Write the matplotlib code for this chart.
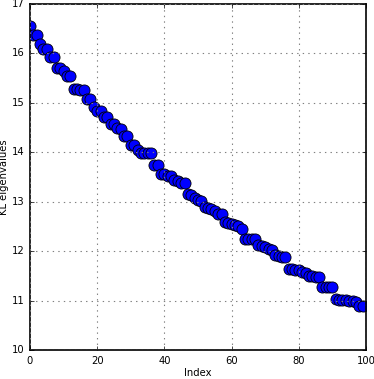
import matplotlib
matplotlib.use("Agg")
import matplotlib.pyplot as plt

index = list(range(100))
eigenvalues = [
    16.55, 16.37, 16.37, 16.20, 16.09, 16.09, 15.92, 15.92, 15.71, 15.71,
    15.65, 15.55, 15.55, 15.28, 15.28, 15.25, 15.25, 15.08, 15.08, 14.91,
    14.83, 14.83, 14.72, 14.71, 14.57, 14.57, 14.49, 14.47, 14.32, 14.32,
    14.14, 14.14, 14.05, 13.99, 13.98, 13.98, 13.98, 13.75, 13.75, 13.57,
    13.57, 13.53, 13.53, 13.43, 13.41, 13.38, 13.37, 13.15, 13.14, 13.08,
    13.03, 13.01, 12.90, 12.87, 12.85, 12.82, 12.76, 12.75, 12.58, 12.56,
    12.55, 12.52, 12.50, 12.45, 12.25, 12.25, 12.25, 12.24, 12.13, 12.11,
    12.08, 12.05, 12.03, 11.92, 11.90, 11.89, 11.88, 11.63, 11.63, 11.62,
    11.61, 11.57, 11.55, 11.50, 11.49, 11.48, 11.47, 11.28, 11.28, 11.28,
    11.28, 11.04, 11.02, 11.01, 11.01, 11.00, 10.99, 10.97, 10.90, 10.89,
]
xticks = [0, 20, 40, 60, 80, 100]
yticks = [10, 11, 12, 13, 14, 15, 16, 17]

plt.style.use("classic")
plt.rcParams["font.family"] = ["DejaVu Sans"]
fig = plt.figure(figsize=(3.74, 3.79), dpi=100, facecolor="white")
ax = fig.add_axes([0.0802, 0.0765, 0.8984, 0.913])
ax.plot(index, eigenvalues, "o", color="blue", markersize=8,
        markeredgecolor="black", markeredgewidth=0.6, clip_on=True)
ax.set_xlim(0, 100)
ax.set_ylim(10, 17)
ax.set_xticks(xticks)
ax.set_yticks(yticks)
ax.tick_params(labelsize=7.2, direction="in", length=3)
for s in ax.spines.values():
    s.set_linewidth(1.2)
ax.grid(True, color="gray", linestyle=":", linewidth=0.8)
ax.set_xlabel("Index", fontsize=7.2, labelpad=2)
ax.set_ylabel("KL eigenvalues", fontsize=7.2, labelpad=2)
fig.savefig("out.png", dpi=100, facecolor="white")
